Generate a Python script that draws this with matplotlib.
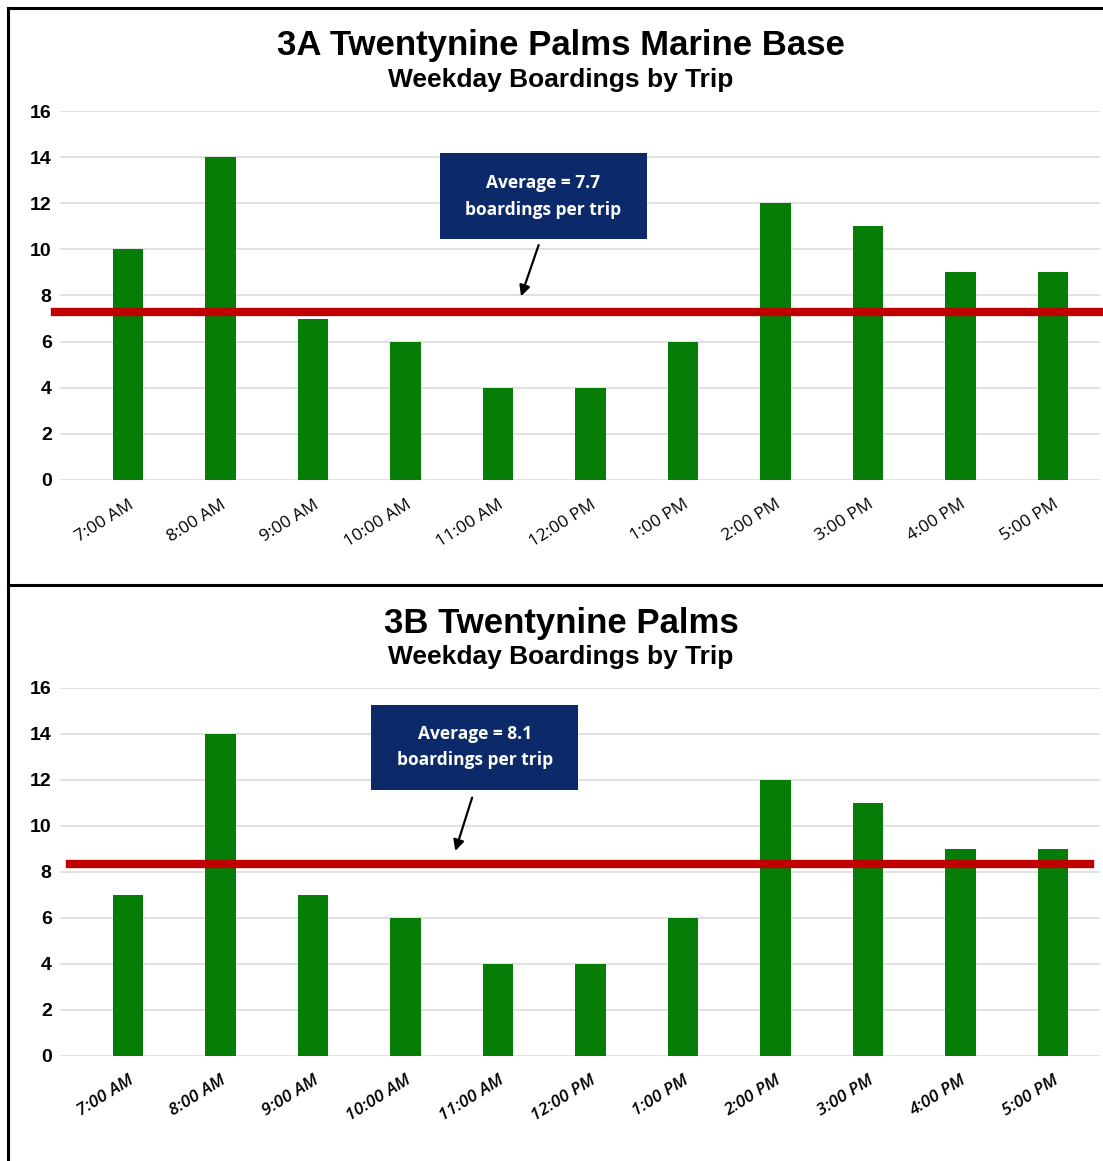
import matplotlib
matplotlib.use("Agg")
import matplotlib.pyplot as plt
from matplotlib.patches import Rectangle
from matplotlib.lines import Line2D

times = ["7:00 AM", "8:00 AM", "9:00 AM", "10:00 AM", "11:00 AM", "12:00 PM",
         "1:00 PM", "2:00 PM", "3:00 PM", "4:00 PM", "5:00 PM"]
boardings_3a = [10, 14, 7, 6, 4, 4, 6, 12, 11, 9, 9]
boardings_3b = [7, 14, 7, 6, 4, 4, 6, 12, 11, 9, 9]
avg_line_3a = 7.3
avg_line_3b = 8.35
avg_text_3a = "Average = 7.7\nboardings per trip"
avg_text_3b = "Average = 8.1\nboardings per trip"
titles = ["3A Twentynine Palms Marine Base", "3B Twentynine Palms"]
subtitle = "Weekday Boardings by Trip"
yticks = [0, 2, 4, 6, 8, 10, 12, 14, 16]

W, H = 1103, 1161
fig = plt.figure(figsize=(W / 100, H / 100), dpi=100)
fig.patch.set_facecolor("white")

title_font = ["Liberation Sans Narrow", "Liberation Sans", "DejaVu Sans"]
GREEN = "#067d06"
RED = "#c00000"
NAVY = "#0c2a6a"


def px_axes(left, right, top, bottom):
    return fig.add_axes([left / W, 1 - bottom / H, (right - left) / W, (bottom - top) / H])


def panel(ax, vals, avg, txt, box, arrow, italic, line_span):
    x = list(range(len(vals)))
    ax.bar(x, vals, width=0.33, color=GREEN, zorder=3)
    ax.set_ylim(0, 16)
    ax.set_xlim(-0.735, 10.51)
    ax.set_yticks(yticks)
    ax.set_yticklabels([str(v) for v in yticks], fontsize=14, fontweight="bold",
                       family=["Liberation Sans", "DejaVu Sans"])
    ax.set_xticks(x)
    ax.set_xticklabels(times, rotation=32, ha="right", rotation_mode="anchor",
                       fontsize=12.5, family=["Open Sans", "DejaVu Sans"],
                       style="italic" if italic else "normal",
                       fontweight="semibold" if italic else "normal")
    ax.tick_params(axis="both", length=0, pad=6)
    ax.tick_params(axis="x", pad=12)
    ax.grid(axis="y", color="#dcdcdc", linewidth=1.2, zorder=0)
    for s in ax.spines.values():
        s.set_visible(False)
    ax.axhline(avg, xmin=line_span[0], xmax=line_span[1], color=RED, linewidth=6,
               zorder=4, clip_on=False)
    bx, by, bw, bh = box
    ax.add_patch(Rectangle((bx - bw / 2, by - bh / 2), bw, bh, facecolor=NAVY,
                           edgecolor="none", zorder=5, clip_on=False))
    ax.text(bx, by, txt, ha="center", va="center", color="white", fontsize=12.5,
            fontweight="bold", family=["Open Sans", "DejaVu Sans"], linespacing=1.6,
            zorder=6)
    (x0, y0), (x1, y1) = arrow
    ax.annotate("", xy=(x1, y1), xytext=(x0, y0),
                arrowprops=dict(arrowstyle="-|>", color="black", lw=1.6,
                                mutation_scale=16), zorder=6)


ax1 = px_axes(60, 1100, 111, 480)
panel(ax1, boardings_3a, avg_line_3a, avg_text_3a,
      (4.49, 12.3, 2.24, 3.73), ((4.45, 10.3), (4.24, 7.85)), False, (-0.005, 1.003))

ax2 = px_axes(60, 1100, 688, 1056)
panel(ax2, boardings_3b, avg_line_3b, avg_text_3b,
      (3.75, 13.43, 2.24, 3.7), ((3.73, 11.35), (3.53, 8.8)), True, (0.0096, 0.99))

fig.text(561 / W, 1 - 46 / H, titles[0], ha="center", va="center", fontsize=25,
         fontweight="bold", family=title_font)
fig.text(561 / W, 1 - 80 / H, subtitle, ha="center", va="center", fontsize=19,
         fontweight="bold", family=title_font)
fig.text(561 / W, 1 - 623 / H, titles[1], ha="center", va="center", fontsize=25,
         fontweight="bold", family=title_font)
fig.text(561 / W, 1 - 657 / H, subtitle, ha="center", va="center", fontsize=19,
         fontweight="bold", family=title_font)

# Frames
def hline(y, x0=8, x1=W):
    fig.add_artist(Line2D([x0 / W, x1 / W], [1 - y / H, 1 - y / H], color="black", lw=2.2))

def vline(x, y0, y1):
    fig.add_artist(Line2D([x / W, x / W], [1 - y0 / H, 1 - y1 / H], color="black", lw=2.2))

hline(8)
hline(585)
vline(8, 8, H)

fig.savefig("out.png", dpi=100, facecolor="white")
